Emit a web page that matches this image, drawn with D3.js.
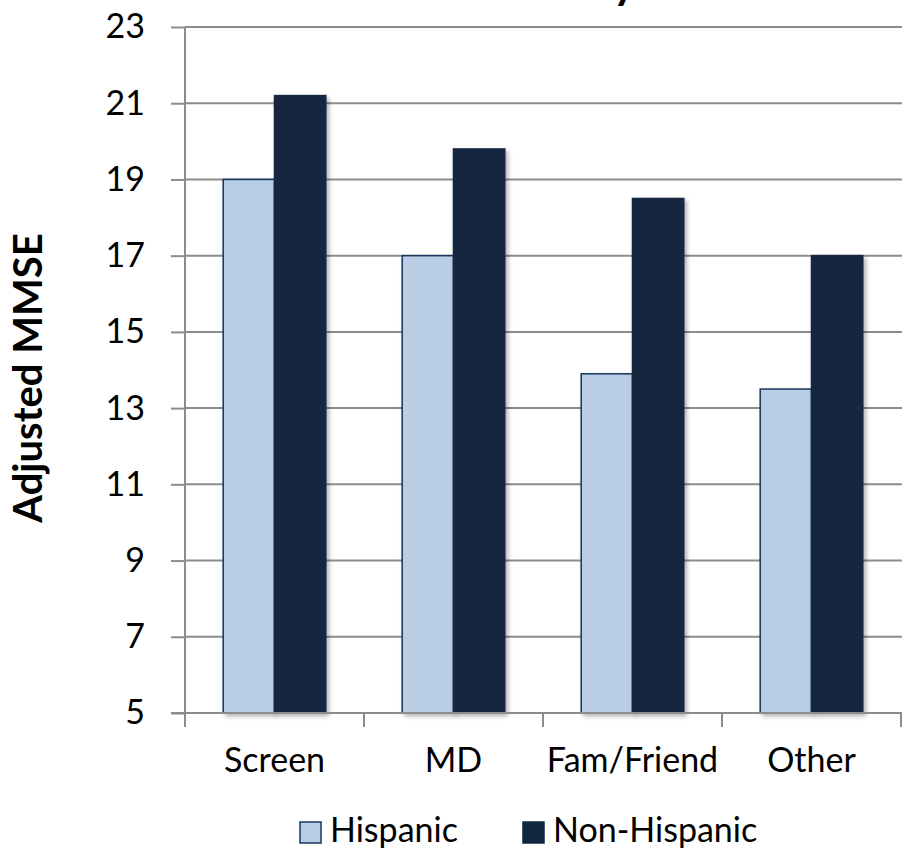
<!DOCTYPE html>
<html>
<head>
<meta charset="utf-8">
<script src="https://cdn.jsdelivr.net/npm/d3@7/dist/d3.min.js"></script>
<style>
  html, body { margin: 0; padding: 0; background: #fff; }
  svg { display: block; }
</style>
</head>
<body>
<svg id="chart" width="902" height="850"></svg>
<script>
const categories = ["Screen", "MD", "Fam/Friend", "Other"];
const seriesNames = ["Hispanic", "Non-Hispanic"];
const hispanic = [19.0, 17.0, 13.9, 13.5];
const nonHispanic = [21.2, 19.8, 18.5, 17.0];
const yTicks = [5, 7, 9, 11, 13, 15, 17, 19, 21, 23];
const yTitle = "Adjusted MMSE";
const chartTitle = "Ethnicity";

(function () {
const FONT = "Lato, 'Open Sans', sans-serif";
const colors = { "Hispanic": "#B9CDE5", "Non-Hispanic": "#13263F" };
const strokes = { "Hispanic": "#17375E", "Non-Hispanic": "#13263F" };

const svg = d3.select("#chart");
const mLeft = 185, mRight = 901, mTop = 27, mBottom = 713;

const defs = svg.append("defs");
const f = defs.append("filter").attr("id", "shadow").attr("x", "-20%").attr("y", "-5%").attr("width", "140%").attr("height", "110%");
f.append("feDropShadow").attr("dx", 2.5).attr("dy", 2.5).attr("stdDeviation", 2).attr("flood-color", "#000").attr("flood-opacity", 0.3);

const y = d3.scaleLinear().domain([5, 23]).range([mBottom, mTop]);
const x0 = d3.scaleBand().domain(categories).range([mLeft, mRight]).padding(0);
const x1 = d3.scaleBand().domain(seriesNames).range([0, x0.bandwidth()]).paddingInner(0).paddingOuter(0.745);

// gridlines
svg.append("g").selectAll("line").data(yTicks.filter(t => t !== 5)).join("line")
  .attr("x1", mLeft).attr("x2", 902)
  .attr("y1", d => y(d)).attr("y2", d => y(d))
  .attr("stroke", "#8C8C8C").attr("stroke-width", 2);

// y axis
const yAxis = svg.append("g").attr("transform", `translate(${mLeft},0)`)
  .call(d3.axisLeft(y).tickValues(yTicks).tickSize(14).tickPadding(26).tickFormat(d3.format("d")));
yAxis.select(".domain").attr("stroke", "#8C8C8C").attr("stroke-width", 2).attr("d", `M0,${mTop}V${mBottom}`);
yAxis.selectAll(".tick line").attr("stroke", "#8C8C8C").attr("stroke-width", 2);
yAxis.selectAll(".tick text").attr("font-family", FONT).attr("font-size", 34).attr("fill", "#000");

// bars
const data = categories.map((c, i) => ({ cat: c, vals: [
  { s: "Hispanic", v: hispanic[i] },
  { s: "Non-Hispanic", v: nonHispanic[i] }
]}));
const groups = svg.append("g").selectAll("g").data(data).join("g")
  .attr("transform", d => `translate(${x0(d.cat)},0)`);
groups.selectAll("rect").data(d => d.vals).join("rect")
  .attr("x", d => x1(d.s))
  .attr("y", d => y(d.v))
  .attr("width", x1.bandwidth())
  .attr("height", d => y(5) - y(d.v))
  .attr("fill", d => colors[d.s])
  .attr("stroke", d => strokes[d.s])
  .attr("stroke-width", 1.5)
  .attr("filter", "url(#shadow)");

// x axis
const xAxisG = svg.append("g").attr("transform", `translate(0,${mBottom})`);
xAxisG.append("line").attr("x1", 171).attr("x2", 902).attr("y1", 0).attr("y2", 0)
  .attr("stroke", "#8C8C8C").attr("stroke-width", 2);
const boundaries = categories.map(c => x0(c)).concat([x0(categories[categories.length - 1]) + x0.bandwidth()]);
xAxisG.selectAll("line.tk").data(boundaries).join("line").attr("class", "tk")
  .attr("x1", d => d).attr("x2", d => d).attr("y1", 0).attr("y2", 14)
  .attr("stroke", "#8C8C8C").attr("stroke-width", 2);
xAxisG.selectAll("text").data(categories).join("text")
  .attr("x", d => x0(d) + x0.bandwidth() / 2)
  .attr("y", 59)
  .attr("text-anchor", "middle")
  .attr("font-family", FONT).attr("font-size", 34).attr("fill", "#000")
  .text(d => d);

// y title
svg.append("text")
  .attr("transform", `translate(42,378) rotate(-90)`)
  .attr("text-anchor", "middle")
  .attr("font-family", FONT).attr("font-weight", "bold").attr("font-size", 40).attr("fill", "#000")
  .text(yTitle);

// chart title (cut off above the picture, as in the reference)
svg.append("text")
  .attr("x", 636).attr("y", -1)
  .attr("text-anchor", "end")
  .attr("font-family", FONT).attr("font-weight", "bold").attr("font-size", 44).attr("fill", "#000")
  .text(chartTitle);

// legend
const legendItems = [
  { s: "Hispanic", x: 300, tx: 330 },
  { s: "Non-Hispanic", x: 523, tx: 553 }
];
const lg = svg.append("g");
lg.selectAll("rect").data(legendItems).join("rect")
  .attr("x", d => d.x).attr("y", 822).attr("width", 21).attr("height", 21)
  .attr("fill", d => colors[d.s]).attr("stroke", d => strokes[d.s]).attr("stroke-width", 1.5);
lg.selectAll("text").data(legendItems).join("text")
  .attr("x", d => d.tx).attr("y", 842)
  .attr("font-family", FONT).attr("font-size", 34).attr("fill", "#000")
  .text(d => d.s);
})();
</script>
</body>
</html>
